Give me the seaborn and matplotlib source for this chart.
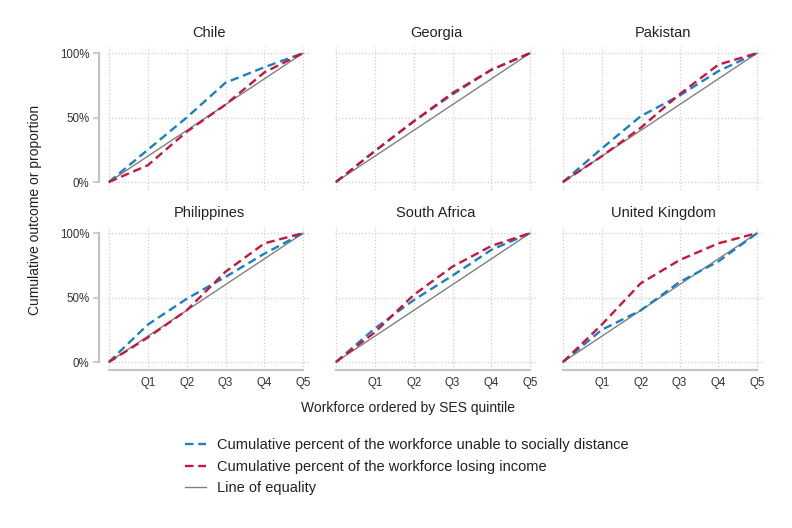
import numpy as np
import pandas as pd
import seaborn as sns
import matplotlib.pyplot as plt
from matplotlib.lines import Line2D

# Data
countries = ["Chile", "Georgia", "Pakistan", "Philippines", "South Africa", "United Kingdom"]
quintile_pos = [0.0, 0.2, 0.4, 0.6, 0.8, 1.0]
tick_labels = ["", "Q1", "Q2", "Q3", "Q4", "Q5"]

distance = {
    "Chile":          [0, 0.25, 0.50, 0.77, 0.89, 1.0],
    "Georgia":        [0, 0.24, 0.47, 0.68, 0.87, 1.0],
    "Pakistan":       [0, 0.26, 0.51, 0.67, 0.86, 1.0],
    "Philippines":    [0, 0.29, 0.49, 0.66, 0.84, 1.0],
    "South Africa":   [0, 0.26, 0.48, 0.67, 0.87, 1.0],
    "United Kingdom": [0, 0.25, 0.40, 0.62, 0.78, 1.0],
}
income = {
    "Chile":          [0, 0.13, 0.39, 0.60, 0.85, 1.0],
    "Georgia":        [0, 0.24, 0.47, 0.69, 0.87, 1.0],
    "Pakistan":       [0, 0.20, 0.42, 0.68, 0.91, 1.0],
    "Philippines":    [0, 0.19, 0.40, 0.70, 0.92, 1.0],
    "South Africa":   [0, 0.23, 0.52, 0.74, 0.90, 1.0],
    "United Kingdom": [0, 0.29, 0.61, 0.79, 0.92, 1.0],
}
equality = [0, 0.2, 0.4, 0.6, 0.8, 1.0]

s_dist = "Cumulative percent of the workforce unable to socially distance"
s_inc = "Cumulative percent of the workforce losing income"
s_eq = "Line of equality"

rows = []
for c in countries:
    for i, x in enumerate(quintile_pos):
        rows.append((c, x, equality[i], s_eq))
        rows.append((c, x, distance[c][i], s_dist))
        rows.append((c, x, income[c][i], s_inc))
df = pd.DataFrame(rows, columns=["country", "x", "value", "series"])

sns.set_style("white")
plt.rcParams["font.family"] = ["Liberation Sans", "DejaVu Sans"]

palette = {s_dist: "#1a80c4", s_inc: "#c8163f", s_eq: "#808080"}
dashes = {s_dist: (3.6, 2.0), s_inc: (3.6, 2.0), s_eq: ""}
widths = {s_dist: 1.7, s_inc: 1.7, s_eq: 1.0}

fig = plt.figure(figsize=(7.92, 5.28), dpi=100)
W, H = 792, 528
lefts = [108, 335, 562]
tops = [47, 227]
aw, ah = 202, 143

for k, c in enumerate(countries):
    r, col = divmod(k, 3)
    ax = fig.add_axes([lefts[col] / W, 1 - (tops[r] + ah) / H, aw / W, ah / H])
    sub = df[df.country == c]
    for s in [s_eq, s_dist, s_inc]:
        part = sub[sub.series == s]
        sns.lineplot(data=part, x="x", y="value", ax=ax, color=palette[s],
                     linewidth=widths[s], legend=False)
        if dashes[s]:
            ax.lines[-1].set_dashes(dashes[s])

    # axis setup
    ax.set_xlim(-0.005, 1.035)
    ax.set_ylim(-0.062, 1.047)
    ax.set_xticks(quintile_pos)
    ax.set_yticks([0, 0.5, 1.0])
    ax.grid(True, linestyle=":", color="#cfcfcf", linewidth=0.9)
    ax.set_xlabel("")
    ax.set_ylabel("")
    ax.set_title(c, fontsize=10.5, color="#222222", pad=7)
    for sp in ["top", "right"]:
        ax.spines[sp].set_visible(False)
    ax.spines["left"].set_visible(col == 0)
    ax.spines["bottom"].set_visible(r == 1)
    ax.spines["left"].set_position(("outward", 6.5))
    ax.spines["left"].set_bounds(0, 1)
    ax.spines["bottom"].set_bounds(0, 1)
    for sp in ["left", "bottom"]:
        ax.spines[sp].set_color("#c4c4c4")
        ax.spines[sp].set_linewidth(1.6)
    if col == 0:
        ax.set_yticklabels(["0%", "50%", "100%"])
        ax.tick_params(axis="y", length=4, color="#c4c4c4", width=1.2,
                       labelsize=8.3, labelcolor="#333333", left=True, pad=3)
    else:
        ax.tick_params(axis="y", left=False, labelleft=False)
    if r == 1:
        ax.set_xticklabels(tick_labels)
        ax.tick_params(axis="x", length=0, labelsize=8.3, labelcolor="#333333", pad=5)
    else:
        ax.tick_params(axis="x", bottom=False, labelbottom=False)

fig.text(35 / W, 1 - 210 / H, "Cumulative outcome or proportion", rotation=90,
         ha="center", va="center", fontsize=10, color="#222222")
fig.text(408 / W, 1 - 408 / H, "Workforce ordered by SES quintile",
         ha="center", va="center", fontsize=10, color="#222222")

handles = [
    Line2D([], [], color=palette[s_dist], linewidth=1.7, dashes=(3.6, 2.0)),
    Line2D([], [], color=palette[s_inc], linewidth=1.7, dashes=(3.6, 2.0)),
    Line2D([], [], color=palette[s_eq], linewidth=1.0),
]
fig.legend(handles, [s_dist, s_inc, s_eq], loc="upper left",
           bbox_to_anchor=(172 / W, 1 - 425 / H), frameon=False,
           fontsize=10.5, handlelength=1.45, handletextpad=0.75,
           labelspacing=0.52, labelcolor="#222222")

fig.savefig("out.png", dpi=100)
